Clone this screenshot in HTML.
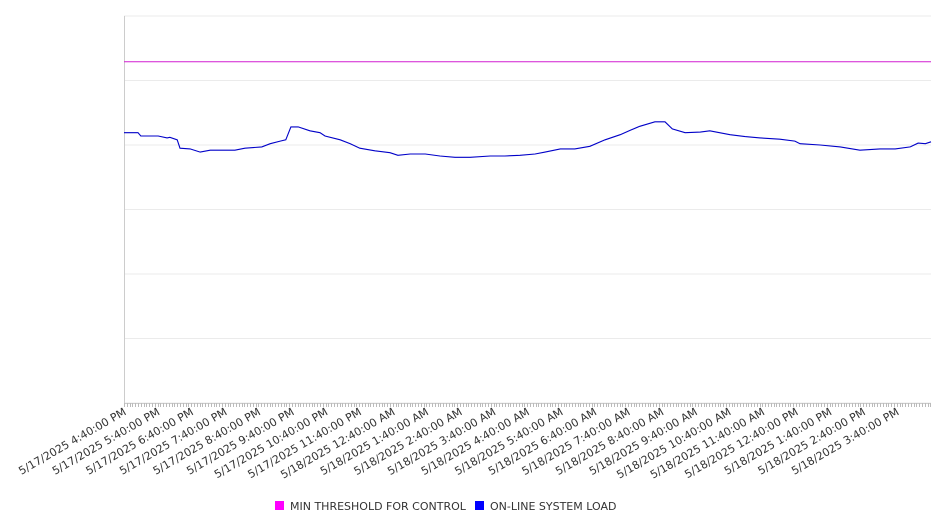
<!DOCTYPE html>
<html><head><meta charset="utf-8"><style>
body{margin:0;background:#fff;font-family:"Liberation Sans","DejaVu Sans",sans-serif;}
svg text{font-family:"DejaVu Sans","Liberation Sans",sans-serif;}
</style></head><body>
<svg id="chart" width="946" height="526" xmlns="http://www.w3.org/2000/svg"></svg>
<script>
const minutes=[0,25,30,61,77,82,95,100,118,136,154,198,216,246,261,279,289,298,311,332,350,359,386,404,421,448,475,489,511,538,564,591,618,654,680,707,734,752,779,805,832,859,886,904,921,948,966,979,1002,1029,1046,1082,1109,1136,1171,1198,1207,1243,1279,1314,1350,1377,1404,1418,1431,1441];
const loadValues=[41.9,41.9,41.4,41.4,41.1,41.2,40.8,39.5,39.4,38.9,39.2,39.2,39.5,39.7,40.2,40.6,40.8,42.8,42.8,42.2,41.9,41.4,40.8,40.2,39.5,39.1,38.8,38.4,38.6,38.6,38.3,38.1,38.1,38.3,38.3,38.4,38.6,38.9,39.4,39.4,39.8,40.8,41.6,42.3,42.9,43.6,43.6,42.5,41.9,42.0,42.2,41.6,41.3,41.1,40.9,40.6,40.2,40.0,39.7,39.2,39.4,39.4,39.7,40.3,40.2,40.5];
const thresholdValue=52.9;
const tickLabels=["5/17/2025 4:40:00 PM","5/17/2025 5:40:00 PM","5/17/2025 6:40:00 PM","5/17/2025 7:40:00 PM","5/17/2025 8:40:00 PM","5/17/2025 9:40:00 PM","5/17/2025 10:40:00 PM","5/17/2025 11:40:00 PM","5/18/2025 12:40:00 AM","5/18/2025 1:40:00 AM","5/18/2025 2:40:00 AM","5/18/2025 3:40:00 AM","5/18/2025 4:40:00 AM","5/18/2025 5:40:00 AM","5/18/2025 6:40:00 AM","5/18/2025 7:40:00 AM","5/18/2025 8:40:00 AM","5/18/2025 9:40:00 AM","5/18/2025 10:40:00 AM","5/18/2025 11:40:00 AM","5/18/2025 12:40:00 PM","5/18/2025 1:40:00 PM","5/18/2025 2:40:00 PM","5/18/2025 3:40:00 PM"];
const yTicks=[0,10,20,30,40,50,60];
const L=124,R=931,T=16,B=403,XMAX=1441,YMAX=60;
const X=m=>L+(R-L)*m/XMAX, Y=v=>B-(B-T)*v/YMAX;
const svg=document.getElementById('chart');
const NS='http://www.w3.org/2000/svg';
function mk(t,a,p){const e=document.createElementNS(NS,t);for(const k in a)e.setAttribute(k,a[k]);(p||svg).appendChild(e);return e;}
yTicks.forEach(v=>{const g=mk('line',{x1:L,x2:R,y1:Y(v),y2:Y(v),stroke:'#ebebeb','stroke-width':1});

});
const ax=mk('line',{x1:L+0.5,x2:L+0.5,y1:T,y2:B,stroke:'#ccc'});


const xa=mk('line',{x1:L,x2:R,y1:B+0.5,y2:B+0.5,stroke:'#ccc'});


let d='';for(let m=0;m<=XMAX;m+=5){const x=Math.round(X(m))+0.5;d+=`M${x},${B}v4`;}
const mt=mk('path',{d:d,stroke:'#bbb','stroke-width':1});


tickLabels.forEach((s,i)=>{const x=X(i*60);const t=mk('text',{x:x+3,y:B+11,'text-anchor':'end','font-size':11,fill:'#333',transform:`rotate(-30 ${x+3} ${B+11})`});t.textContent=s;

});
const th=mk('line',{x1:L,x2:R,y1:Y(thresholdValue),y2:Y(thresholdValue),stroke:'#d21fd2','stroke-width':1});


const pts=minutes.map((m,i)=>X(m).toFixed(1)+','+Y(loadValues[i]).toFixed(1)).join(' ');
const ln=mk('polyline',{points:pts,fill:'none',stroke:'#0000c8','stroke-width':1.1});


const lg=mk('g',{});


const r1=mk('rect',{x:275,y:501,width:9,height:9,fill:'#ff00ff'},lg);


const t1=mk('text',{x:290,y:510,'font-size':11,fill:'#333'},lg);t1.textContent='MIN THRESHOLD FOR CONTROL';


const r2=mk('rect',{x:475,y:501,width:9,height:9,fill:'#0000ff'},lg);


const t2=mk('text',{x:490,y:510,'font-size':11,fill:'#333'},lg);t2.textContent='ON-LINE SYSTEM LOAD';


</script>
</body></html>
